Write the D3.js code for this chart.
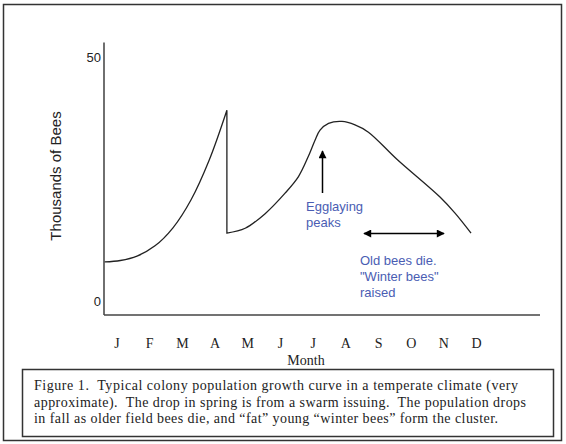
<!DOCTYPE html>
<html>
<head>
<meta charset="utf-8">
<script src="https://cdn.jsdelivr.net/npm/d3@7"></script>
<style>
  body { margin: 0; background: #fff; }
  svg { display: block; }
</style>
</head>
<body>
<div id="chart"></div>
<script>
(function() {
    var W = 566, H = 444;

    // month labels along the bottom
    var months = ["J", "F", "M", "A", "M", "J", "J", "A", "S", "O", "N", "D"];
    var yTicks = [0, 50];

    // colony growth before the swarm (x in months, 0 = Jan; y in thousands of bees)
    var springX = [-0.38, 0.1, 0.61, 1.16, 1.71, 2.26, 2.82, 3.36];
    var springY = [8.0, 8.3, 9.2, 11.3, 15.0, 20.7, 28.9, 39.1];
    // after the swarm issues
    var summerX = [3.36, 3.92, 4.53, 5.14, 5.55, 5.85, 6.06, 6.21, 6.47, 6.88, 7.28, 7.69, 8.57, 9.88, 10.34, 10.83];
    var summerY = [13.9, 14.9, 17.9, 22.1, 25.5, 29.6, 33.0, 35.0, 36.4, 36.8, 36.1, 34.6, 29.0, 21.3, 18.0, 13.9];

    var captionLines = [
        "Figure 1.  Typical colony population growth curve in a temperate climate (very",
        "approximate).  The drop in spring is from a swarm issuing.  The population drops",
        "in fall as older field bees die, and \u201cfat\u201d young \u201cwinter bees\u201d form the cluster."
    ];

    var blue = "#4a5db3";

    var svg = d3.select("#chart").append("svg")
        .attr("width", W).attr("height", H);

    svg.append("defs").append("marker")
        .attr("id", "head")
        .attr("viewBox", "0 0 10 10")
        .attr("refX", 9).attr("refY", 5)
        .attr("markerWidth", 10).attr("markerHeight", 8)
        .attr("markerUnits", "userSpaceOnUse")
        .attr("orient", "auto-start-reverse")
        .append("path").attr("d", "M0,0 L10,5 L0,10 Z").attr("fill", "#000");

    // outer frame
    svg.append("rect")
        .attr("x", 3.5).attr("y", 4.5).attr("width", 558).attr("height", 436)
        .attr("fill", "none").attr("stroke", "#333").attr("stroke-width", 1.5);

    var x = d3.scaleLinear().domain([-0.4, 12.94]).range([104, 540]);
    var y = d3.scaleLinear().domain([0, 50]).range([301, 57]);

    // axes, drawn as plain lines like the original
    svg.append("line")
        .attr("x1", 104).attr("x2", 104).attr("y1", 42.5).attr("y2", 315)
        .attr("stroke", "#222").attr("stroke-width", 1.3);
    svg.append("line")
        .attr("x1", 104).attr("x2", 540).attr("y1", 315).attr("y2", 315)
        .attr("stroke", "#444").attr("stroke-width", 1.5);

    svg.selectAll(".ytick")
        .data(yTicks)
        .enter().append("text")
        .attr("class", "ytick")
        .attr("x", 101)
        .attr("y", function(d) { return y(d); })
        .attr("dy", "0.35em")
        .attr("text-anchor", "end")
        .attr("font-family", "Liberation Sans Narrow, Liberation Sans, Arial")
        .attr("font-size", 13)
        .attr("fill", "#222")
        .text(function(d) { return d; });

    svg.append("text")
        .attr("transform", "translate(61,176) rotate(-90)")
        .attr("text-anchor", "middle")
        .attr("font-family", "Liberation Sans, Arial")
        .attr("font-size", 15)
        .attr("fill", "#222")
        .text("Thousands of Bees");

    svg.selectAll(".month")
        .data(months)
        .enter().append("text")
        .attr("class", "month")
        .attr("x", function(d, i) { return x(i); })
        .attr("y", 348)
        .attr("text-anchor", "middle")
        .attr("font-family", "Liberation Serif, Times New Roman")
        .attr("font-size", 14)
        .attr("fill", "#222")
        .text(function(d) { return d; });

    svg.append("text")
        .attr("x", 306).attr("y", 365)
        .attr("text-anchor", "middle")
        .attr("font-family", "Liberation Serif, Times New Roman")
        .attr("font-size", 14)
        .attr("fill", "#222")
        .text("Month");

    // population curve
    var line = d3.line()
        .x(function(d) { return x(d[0]); })
        .y(function(d) { return y(d[1]); })
        .curve(d3.curveCatmullRom.alpha(0.5));

    var spring = d3.zip(springX, springY);
    var summer = d3.zip(summerX, summerY);

    svg.append("path")
        .attr("d", line(spring) + "L" + x(summerX[0]) + "," + y(summerY[0]) + line(summer).replace(/^M/, "L"))
        .attr("fill", "none")
        .attr("stroke", "#222")
        .attr("stroke-width", 1.3);

    // annotations
    svg.append("line")
        .attr("x1", 322.5).attr("x2", 322.5).attr("y1", 193).attr("y2", 151)
        .attr("stroke", "#000").attr("stroke-width", 1.5)
        .attr("marker-end", "url(#head)");

    svg.append("line")
        .attr("x1", 364).attr("x2", 444).attr("y1", 233.5).attr("y2", 233.5)
        .attr("stroke", "#000").attr("stroke-width", 1.5)
        .attr("marker-start", "url(#head)")
        .attr("marker-end", "url(#head)");

    var note1 = svg.append("text")
        .attr("font-family", "Liberation Sans, Arial")
        .attr("font-size", 13)
        .attr("fill", blue);
    note1.append("tspan").attr("x", 306).attr("y", 211).text("Egglaying");
    note1.append("tspan").attr("x", 306).attr("y", 227).text("peaks");

    var note2 = svg.append("text")
        .attr("font-family", "Liberation Sans, Arial")
        .attr("font-size", 13)
        .attr("fill", blue);
    note2.append("tspan").attr("x", 360).attr("y", 265).text("Old bees die.");
    note2.append("tspan").attr("x", 360).attr("y", 281).text("\"Winter bees\"");
    note2.append("tspan").attr("x", 360).attr("y", 297).text("raised");

    // caption box
    svg.append("rect")
        .attr("x", 22.5).attr("y", 369.5).attr("width", 531).attr("height", 67)
        .attr("fill", "none").attr("stroke", "#333").attr("stroke-width", 1.5);

    var widths = [484, 492, 464];
    svg.selectAll(".caption")
        .data(captionLines)
        .enter().append("text")
        .attr("class", "caption")
        .attr("x", 34)
        .attr("y", function(d, i) { return 390 + i * 16.7; })
        .attr("textLength", function(d, i) { return widths[i]; })
        .attr("lengthAdjust", "spacing")
        .attr("font-family", "Liberation Serif, Times New Roman")
        .attr("font-size", 14)
        .attr("fill", "#222")
        .style("white-space", "pre")
        .text(function(d) { return d; });
})();
</script>
</body>
</html>
